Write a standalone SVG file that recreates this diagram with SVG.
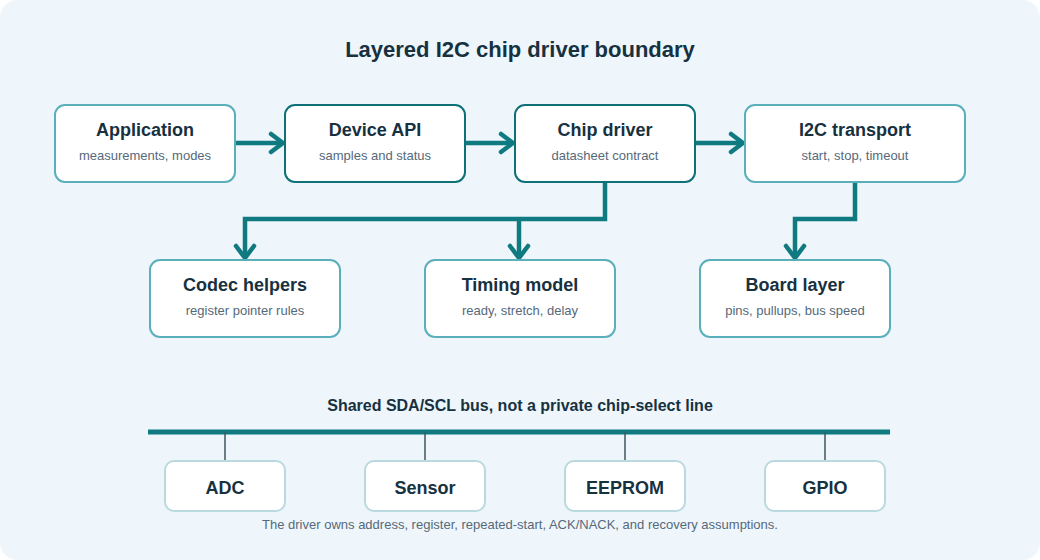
<svg xmlns="http://www.w3.org/2000/svg" width="1040" height="560" viewBox="0 0 1040 560">
<style>
.bg{fill:#eef6fc}
.node{fill:#ffffff;stroke-width:2}
.light{stroke:#5aafbb}
.dark{stroke:#0f7178}
.dev{fill:#ffffff;stroke:#b9d9df;stroke-width:2}
.h{font-family:"Liberation Sans",Arial,sans-serif;font-weight:bold;font-size:18px;fill:#17313f;text-anchor:middle}
.s{font-family:"Liberation Sans",Arial,sans-serif;font-size:13px;fill:#55697a;text-anchor:middle}
.title{font-family:"Liberation Sans",Arial,sans-serif;font-weight:bold;font-size:22px;fill:#17313f;text-anchor:middle}
.bt{font-family:"Liberation Sans",Arial,sans-serif;font-weight:bold;font-size:16px;fill:#17313f;text-anchor:middle}
.conn{fill:none;stroke:#0f7a80;stroke-width:4.5;stroke-linejoin:miter}
.tap{stroke:#3e5662;stroke-width:1.5}
</style>
<defs>
<marker id="arr" markerUnits="userSpaceOnUse" viewBox="0 0 18 24" markerWidth="18" markerHeight="24" refX="15" refY="12" orient="auto">
<path d="M3,3 L15,12 L3,21" fill="none" stroke="#0f7a80" stroke-width="4.5" stroke-linecap="round" stroke-linejoin="round"/>
</marker>
</defs>
<rect class="bg" x="0" y="0" width="1040" height="560" rx="18"/>
<text class="title" x="520" y="57">Layered I2C chip driver boundary</text>

<g id="connectors">
<path class="conn" d="M235,143 L283,143" marker-end="url(#arr)"/>
<path class="conn" d="M465,143 L513,143" marker-end="url(#arr)"/>
<path class="conn" d="M695,143 L743,143" marker-end="url(#arr)"/>
<path class="conn" d="M605,182 L605,219 L245,219 L245,258" marker-end="url(#arr)"/>
<path class="conn" d="M519,219 L519,258" marker-end="url(#arr)"/>
<path class="conn" d="M855,182 L855,219 L795,219 L795,258" marker-end="url(#arr)"/>
<line x1="148" y1="432" x2="890" y2="432" stroke="#0f7a80" stroke-width="5"/>
<line class="tap" x1="225" y1="432" x2="225" y2="461"/>
<line class="tap" x1="425" y1="432" x2="425" y2="461"/>
<line class="tap" x1="625" y1="432" x2="625" y2="461"/>
<line class="tap" x1="825" y1="432" x2="825" y2="461"/>
</g>

<g id="application">
<rect class="node light" x="55" y="105" width="180" height="77" rx="10"/>
<text class="h" x="145" y="136">Application</text>
<text class="s" x="145" y="160">measurements, modes</text>
</g>
<g id="device-api">
<rect class="node dark" x="285" y="105" width="180" height="77" rx="10"/>
<text class="h" x="375" y="136">Device API</text>
<text class="s" x="375" y="160">samples and status</text>
</g>
<g id="chip-driver">
<rect class="node dark" x="515" y="105" width="180" height="77" rx="10"/>
<text class="h" x="605" y="136">Chip driver</text>
<text class="s" x="605" y="160">datasheet contract</text>
</g>
<g id="i2c-transport">
<rect class="node light" x="745" y="105" width="220" height="77" rx="10"/>
<text class="h" x="855" y="136">I2C transport</text>
<text class="s" x="855" y="160">start, stop, timeout</text>
</g>
<g id="codec-helpers">
<rect class="node light" x="150" y="260" width="190" height="77" rx="10"/>
<text class="h" x="245" y="291">Codec helpers</text>
<text class="s" x="245" y="315">register pointer rules</text>
</g>
<g id="timing-model">
<rect class="node light" x="425" y="260" width="190" height="77" rx="10"/>
<text class="h" x="520" y="291">Timing model</text>
<text class="s" x="520" y="315">ready, stretch, delay</text>
</g>
<g id="board-layer">
<rect class="node light" x="700" y="260" width="190" height="77" rx="10"/>
<text class="h" x="795" y="291">Board layer</text>
<text class="s" x="795" y="315">pins, pullups, bus speed</text>
</g>

<text class="bt" x="520" y="411">Shared SDA/SCL bus, not a private chip-select line</text>

<g id="adc">
<rect class="dev" x="165" y="461" width="120" height="50" rx="9"/>
<text class="h" x="225" y="494">ADC</text>
</g>
<g id="sensor">
<rect class="dev" x="365" y="461" width="120" height="50" rx="9"/>
<text class="h" x="425" y="494">Sensor</text>
</g>
<g id="eeprom">
<rect class="dev" x="565" y="461" width="120" height="50" rx="9"/>
<text class="h" x="625" y="494">EEPROM</text>
</g>
<g id="gpio">
<rect class="dev" x="765" y="461" width="120" height="50" rx="9"/>
<text class="h" x="825" y="494">GPIO</text>
</g>

<text class="s" x="520" y="529">The driver owns address, register, repeated-start, ACK/NACK, and recovery assumptions.</text>
</svg>
